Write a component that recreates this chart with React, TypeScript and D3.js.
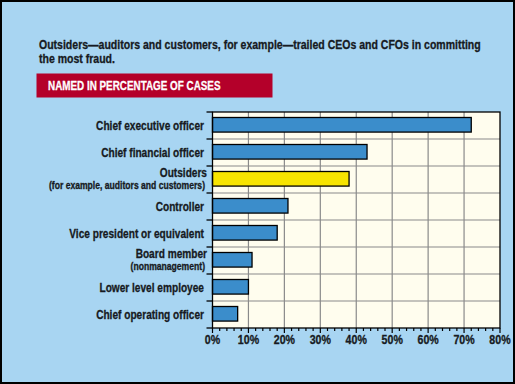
import React from "react";
import * as d3 from "d3";

const categories = [
  "Chief executive officer",
  "Chief financial officer",
  "Outsiders",
  "Controller",
  "Vice president or equivalent",
  "Board member",
  "Lower level employee",
  "Chief operating officer",
];
const subLabels = ["", "", "(for example, auditors and customers)", "", "", "(nonmanagement)", "", ""];
const values = [72, 43, 38, 21, 18, 11, 10, 7];
const highlighted = ["Outsiders"];
const xTicks = [0, 10, 20, 30, 40, 50, 60, 70, 80];
const titleLines = [
  "Outsiders\u2014auditors and customers, for example\u2014trailed CEOs and CFOs in committing",
  "the most fraud.",
];
const subtitle = "NAMED IN PERCENTAGE OF CASES";

const W = 515;
const H = 384;
const FONT = "'Liberation Sans', Arial, sans-serif";

function T(props: {
  x: number;
  y: number;
  sx: number;
  size: number;
  anchor?: string;
  fill?: string;
  children: React.ReactNode;
}) {
  const fill = props.fill || "#161a22";
  return (
    <text
      transform={`translate(${props.x},${props.y}) scale(${props.sx},1)`}
      fontSize={props.size}
      fontWeight="bold"
      textAnchor={props.anchor || "start"}
      fill={fill}
      stroke={fill}
      strokeWidth={0.3}
    >
      {props.children}
    </text>
  );
}

export default function App() {
  const x = d3.scaleLinear().domain([0, 80]).range([212.5, 500]);
  const y = d3.scaleBand<string>().domain(categories).range([112, 328]).padding(0);
  const bw = y.bandwidth();
  const minor = d3.range(0, 81, 2);

  return (
    <svg
      width={W}
      height={H}
      style={{ position: "absolute", left: 0, top: 0 }}
      fontFamily={FONT}
    >
      <rect x={1} y={1} width={W - 2} height={H - 2} fill="#A8D5F2" stroke="#000" strokeWidth={2} />
      {titleLines.map((t, i) => (
        <T key={i} x={39} y={48.5 + i * 14.5} sx={0.81} size={13}>
          {t}
        </T>
      ))}
      <rect x={36.5} y={73.5} width={236} height={24} fill="#B4002A" />
      <T x={48} y={89.5} sx={0.76} size={13} fill="#fff">
        {subtitle}
      </T>

      {/* plot background */}
      <rect x={x(0)} y={112} width={x(80) - x(0)} height={216} fill="#FFFDEE" />
      {/* vertical grid */}
      {xTicks.slice(1, -1).map((t) => (
        <line key={t} x1={x(t)} x2={x(t)} y1={112} y2={328} stroke="#8a8a8a" strokeWidth={1.2} />
      ))}
      {/* horizontal grid */}
      {categories.slice(1).map((c) => (
        <line key={c} x1={x(0)} x2={x(80)} y1={y(c)!} y2={y(c)!} stroke="#8a8a8a" strokeWidth={1.2} />
      ))}
      {/* bars */}
      {categories.map((c, i) => (
        <rect
          key={c}
          x={x(0)}
          y={y(c)! + 5.5}
          width={x(values[i]) - x(0)}
          height={bw * 0.54}
          fill={highlighted.includes(c) ? "#F7E400" : "#3B8DCB"}
          stroke="#000"
          strokeWidth={1.3}
        />
      ))}
      {/* frame */}
      <rect x={x(0)} y={112} width={x(80) - x(0)} height={216} fill="none" stroke="#000" strokeWidth={1.3} />
      {/* left ticks */}
      {categories.map((c) => (
        <line key={c} x1={x(0) - 6} x2={x(0)} y1={y(c)!} y2={y(c)!} stroke="#000" strokeWidth={1.3} />
      ))}
      <line x1={x(0) - 6} x2={x(0)} y1={328} y2={328} stroke="#000" strokeWidth={1.3} />
      {/* bottom ticks */}
      {minor.map((t) => (
        <line
          key={t}
          x1={x(t)}
          x2={x(t)}
          y1={328}
          y2={328 + (t % 10 === 0 ? 5 : 3)}
          stroke="#000"
          strokeWidth={1.2}
        />
      ))}
      {xTicks.map((t) => (
        <T key={t} x={x(t)} y={344} sx={0.85} size={12.5} anchor="middle">
          {t}%
        </T>
      ))}
      {/* category labels */}
      {categories.map((c, i) => {
        const mid = y(c)! + bw / 2;
        if (subLabels[i]) {
          return (
            <g key={c}>
              <T x={207} y={mid - 2.5} sx={0.81} size={12.5} anchor="end">
                {c}
              </T>
              <T x={205} y={mid + 9.5} sx={0.86} size={10} anchor="end">
                {subLabels[i]}
              </T>
            </g>
          );
        }
        return (
          <T key={c} x={204} y={mid + 4} sx={0.81} size={12.5} anchor="end">
            {c}
          </T>
        );
      })}
    </svg>
  );
}
